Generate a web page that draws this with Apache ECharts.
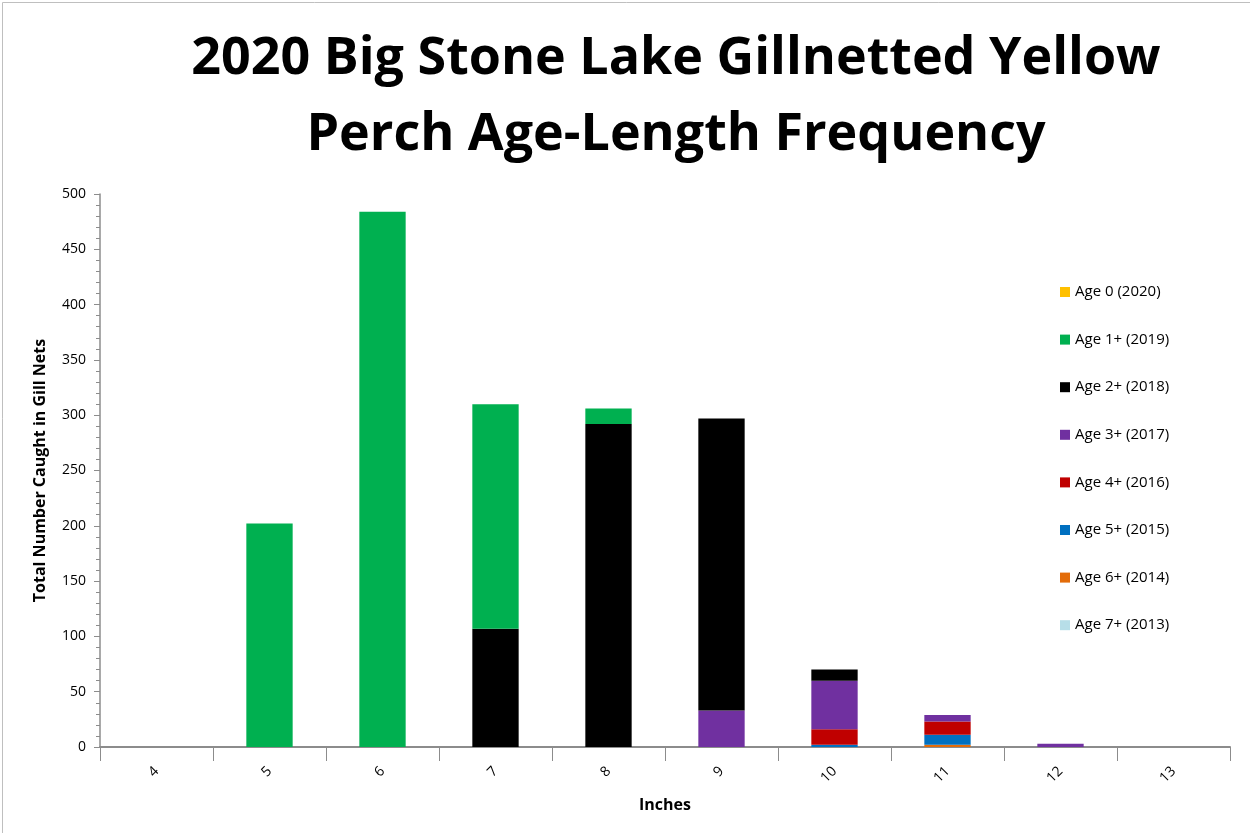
<!DOCTYPE html>
<html>
<head>
<meta charset="utf-8">
<script src="https://cdn.jsdelivr.net/npm/echarts@6/dist/echarts.min.js"></script>
<style>
  html, body { margin: 0; padding: 0; background: #fff; }
  #chart { width: 1250px; height: 833px; }
</style>
</head>
<body>
<div id="chart"></div>
<script>
// Length classes (inches)
const inches = ['4', '5', '6', '7', '8', '9', '10', '11', '12', '13'];

// Fish counts per length class, one array per age class
const age0 = [0, 0, 0, 0, 0, 0, 0, 0, 0, 0];
const age1 = [0, 202, 484, 203, 14, 0, 0, 0, 0, 0];
const age2 = [0, 0, 0, 107, 292, 264, 10, 0, 0, 0];
const age3 = [0, 0, 0, 0, 0, 33, 44, 6, 3, 0];
const age4 = [0, 0, 0, 0, 0, 0, 14, 12, 0, 0];
const age5 = [0, 0, 0, 0, 0, 0, 2, 9, 0, 0];
const age6 = [0, 0, 0, 0, 0, 0, 0, 2, 0, 0];
const age7 = [0, 0, 0, 0, 0, 0, 0, 0, 0, 0];

const ageNames = ['Age 0 (2020)', 'Age 1+ (2019)', 'Age 2+ (2018)', 'Age 3+ (2017)',
                  'Age 4+ (2016)', 'Age 5+ (2015)', 'Age 6+ (2014)', 'Age 7+ (2013)'];
const ageColors = ['#FFC000', '#00B050', '#000000', '#7030A0',
                   '#C00000', '#0070C0', '#E36C09', '#B7DEE8'];
const ageData = [age0, age1, age2, age3, age4, age5, age6, age7];

const font = '"Open Sans", "Liberation Sans", sans-serif';

// Oldest fish sit at the bottom of each stack
const series = [];
for (let i = ageNames.length - 1; i >= 0; i--) {
  series.push({
    name: ageNames[i],
    type: 'bar',
    stack: 'total',
    data: ageData[i],
    itemStyle: { color: ageColors[i] },
    barCategoryGap: '59%'
  });
}

const chart = echarts.init(document.getElementById('chart'));
chart.setOption({
  animation: false,
  graphic: [{
    type: 'rect',
    left: 0, top: 0,
    shape: { x: 0.5, y: 0.5, width: 1249, height: 832 },
    style: { fill: 'none', stroke: '#bfbfbf', lineWidth: 1 },
    silent: true
  }],
  title: {
    text: '2020 Big Stone Lake Gillnetted Yellow\nPerch Age-Length Frequency',
    left: 671,
    textAlign: 'center',
    top: 16,
    textStyle: { fontFamily: font, fontWeight: 'bold', fontSize: 52, lineHeight: 76, color: '#000' }
  },
  legend: {
    data: ageNames,
    orient: 'vertical',
    left: 1055,
    top: 279,
    itemWidth: 10,
    itemHeight: 10,
    itemGap: 31.6,
    icon: 'rect',
    textStyle: { fontFamily: font, fontSize: 15, color: '#000', lineHeight: 16 }
  },
  grid: { left: 100, right: 20, top: 194, bottom: 86, containLabel: false },
  xAxis: {
    type: 'category',
    data: inches,
    name: 'Inches',
    nameLocation: 'middle',
    nameGap: 50,
    nameTextStyle: { fontFamily: font, fontWeight: 'bold', fontSize: 16, color: '#000' },
    axisLine: { lineStyle: { color: '#8c8c8c', width: 2 } },
    axisTick: { show: true, alignWithLabel: false, length: 14, lineStyle: { color: '#8c8c8c' } },
    axisLabel: { rotate: 45, margin: 22, fontFamily: font, fontSize: 14, color: '#000' }
  },
  yAxis: {
    type: 'value',
    min: 0,
    max: 500,
    interval: 50,
    name: 'Total Number Caught in Gill Nets',
    nameLocation: 'middle',
    nameGap: 52,
    nameTextStyle: { fontFamily: font, fontWeight: 'bold', fontSize: 16, color: '#000' },
    axisLine: { show: true, lineStyle: { color: '#8c8c8c', width: 1.5 } },
    axisTick: { show: true, length: 6, lineStyle: { color: '#8c8c8c' } },
    minorTick: { show: true, splitNumber: 5, length: 4, lineStyle: { color: '#8c8c8c' } },
    splitLine: { show: false },
    axisLabel: { margin: 14, fontFamily: font, fontSize: 14, color: '#000' }
  },
  series: series
});
</script>
</body>
</html>
